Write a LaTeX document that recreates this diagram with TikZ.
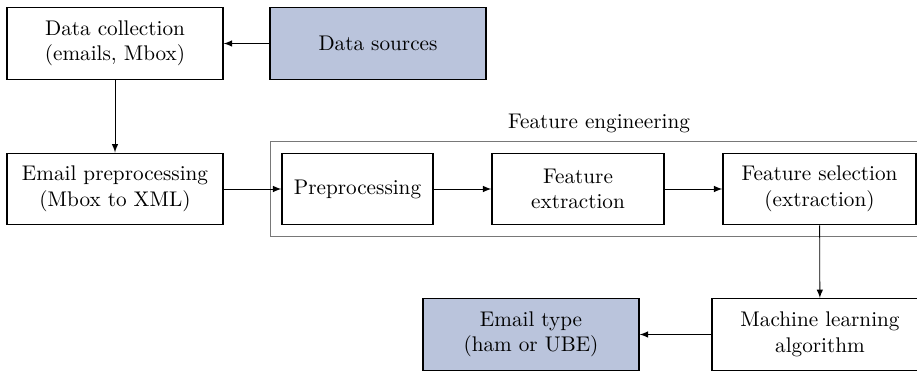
\documentclass[tikz,border=0pt]{standalone}
\usepackage{tikz}
\usepackage{xcolor}
\usetikzlibrary{arrows,fit}
\definecolor{slate}{RGB}{186,196,220}
\definecolor{framegray}{RGB}{120,120,120}

\begin{document}
\begin{tikzpicture}[x=0.4717pt, y=-0.4717pt,
  box/.style={draw, semithick, align=center, inner sep=0pt,
    minimum width=101.9pt, minimum height=33.8pt},
  flow/.style={->, >=latex}]
\useasboundingbox (0,0) rectangle (917,372);

\node[box] (collect) at (115,43.5) {Data collection\\(emails, Mbox)};
\node[box, fill=slate] (sources) at (378,43.5) {Data sources};
\node[box] (emailpre) at (115,189) {Email preprocessing\\(Mbox to XML)};
\node[box, minimum width=71.2pt] (prep) at (357.5,189) {Preprocessing};
\node[box, minimum width=81.1pt] (extract) at (578,189) {Feature\\extraction};
\node[box, minimum width=91pt] (select) at (819.5,189) {Feature selection\\(extraction)};
\node[box] (learn) at (820,334.5) {Machine learning\\algorithm};
\node[box, fill=slate] (emailtype) at (531,334.5) {Email type\\(ham or UBE)};

% Feature engineering group
\node[draw=framegray, fit=(prep)(select), inner sep=5.4pt] (feng) {};
\node[above] (fenglabel) at (feng.north) {Feature engineering};

% Arrows
\draw[flow] (sources) -- (collect);
\draw[flow] (collect) -- (emailpre);
\draw[flow] (emailpre) -- (prep);
\draw[flow] (prep) -- (extract);
\draw[flow] (extract) -- (select);
\draw[flow] (select) -- (learn);
\draw[flow] (learn) -- (emailtype);
\end{tikzpicture}
\end{document}
